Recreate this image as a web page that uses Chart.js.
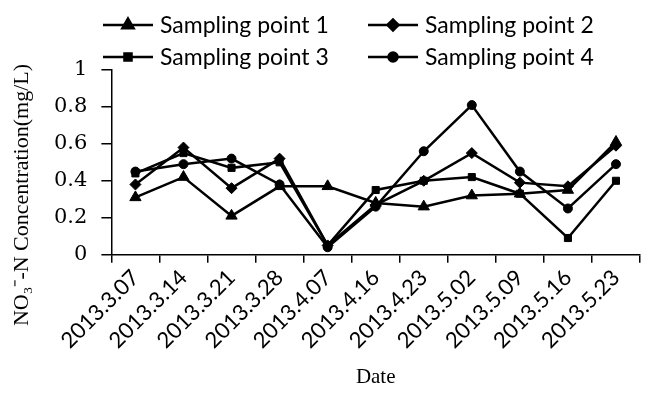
<!DOCTYPE html>
<html>
<head>
<meta charset="utf-8">
<script src="https://cdn.jsdelivr.net/npm/chart.js@4/dist/chart.umd.min.js"></script>
<style>
  html, body { margin: 0; padding: 0; background: #fff; }
  #wrap { width: 648px; height: 400px; }
</style>
</head>
<body>
<div id="wrap"><canvas id="nChart"></canvas></div>
<script>
// Sampling dates and NO3--N readings (mg/L)
const dates = ['2013.3.07', '2013.3.14', '2013.3.21', '2013.3.28', '2013.4.07', '2013.4.16',
               '2013.4.23', '2013.5.02', '2013.5.09', '2013.5.16', '2013.5.23'];
const point1 = [0.31, 0.42, 0.21, 0.37, 0.37, 0.28, 0.26, 0.32, 0.33, 0.35, 0.61];
const point2 = [0.38, 0.58, 0.36, 0.52, 0.05, 0.27, 0.40, 0.55, 0.39, 0.37, 0.59];
const point3 = [0.44, 0.55, 0.47, 0.50, 0.05, 0.35, 0.40, 0.42, 0.33, 0.09, 0.40];
const point4 = [0.45, 0.49, 0.52, 0.38, 0.04, 0.26, 0.56, 0.81, 0.45, 0.25, 0.49];
const seriesNames = ['Sampling point 1', 'Sampling point 2', 'Sampling point 3', 'Sampling point 4'];
const yTicks = [0, 0.2, 0.4, 0.6, 0.8, 1];
const yTitle = 'NO\u2083\u207B-N Concentration(mg/L)';

const markers = ['triangle', 'rectRot', 'rect', 'circle'];
const markerSize = [6.5, 5.5, 5, 4.5];

const makeSet = (i, data) => ({
    label: seriesNames[i],
    data: data,
    borderColor: '#000',
    backgroundColor: '#000',
    borderWidth: 2.5,
    pointStyle: markers[i],
    pointRadius: markerSize[i],
    pointBackgroundColor: '#000',
    pointBorderColor: '#000',
    pointBorderWidth: 1,
    tension: 0,
});

// two-column legend (line with marker in the middle) and the y title, drawn by hand
const extras = {
    id: 'extras',
    afterDraw(chart) {
        const c = chart.ctx;
        const cols = [103, 368];
        const rows = [25, 57];
        c.save();
        chart.data.datasets.forEach((ds, i) => {
            const x = cols[i % 2];
            const y = rows[Math.floor(i / 2)];
            c.strokeStyle = '#000';
            c.lineWidth = 2.5;
            c.beginPath();
            c.moveTo(x, y);
            c.lineTo(x + 50, y);
            c.stroke();
            c.fillStyle = '#000';
            Chart.helpers.drawPoint(c, { pointStyle: ds.pointStyle, radius: ds.pointRadius, borderWidth: 1 }, x + 25, y);
            c.font = '23px Lato';
            c.textBaseline = 'middle';
            c.fillText(ds.label, x + 57, y + 1);
        });
        // y axis title
        c.translate(22, 195);
        c.rotate(-Math.PI / 2);
        c.font = '22px "Liberation Serif"';
        c.textAlign = 'center';
        c.textBaseline = 'middle';
        c.fillText(yTitle, 0, 0);
        c.restore();
    }
};

const ctx = document.getElementById('nChart').getContext('2d');
const nChart = new Chart(ctx, {
    type: 'line',
    data: {
        labels: dates,
        datasets: [makeSet(0, point1), makeSet(1, point2), makeSet(2, point3), makeSet(3, point4)]
    },
    options: {
        responsive: true,
        maintainAspectRatio: false,
        animation: false,
        layout: { padding: { top: 70, right: 8, left: 40, bottom: 0 } },
        scales: {
            x: {
                offset: true,
                grid: {
                    offset: true,
                    drawOnChartArea: false,
                    color: '#000',
                    tickLength: 8,
                    lineWidth: 1.5,
                },
                border: { color: '#000', width: 1.5 },
                ticks: {
                    color: '#000',
                    minRotation: 45,
                    maxRotation: 45,
                    padding: 2,
                    font: { family: 'Lato', size: 22 },
                },
                title: {
                    display: true,
                    text: 'Date',
                    color: '#000',
                    padding: { top: 9, bottom: 10 },
                    font: { family: 'Liberation Serif', size: 21 },
                },
            },
            y: {
                min: 0,
                max: 1,
                afterBuildTicks: (scale) => {
                    scale.ticks = yTicks.map((v) => ({ value: v }));
                },
                grid: {
                    drawOnChartArea: false,
                    color: '#000',
                    tickLength: 10,
                    lineWidth: 1.5,
                },
                border: { color: '#000', width: 1.5 },
                ticks: {
                    color: '#000',
                    padding: 14,
                    callback: (value) => String(Math.round(value * 10) / 10),
                    font: { family: 'DejaVu Serif', size: 21 },
                },
            },
        },
        plugins: {
            legend: { display: false },
            tooltip: { enabled: false },
        },
    },
    plugins: [extras],
});
</script>
</body>
</html>
